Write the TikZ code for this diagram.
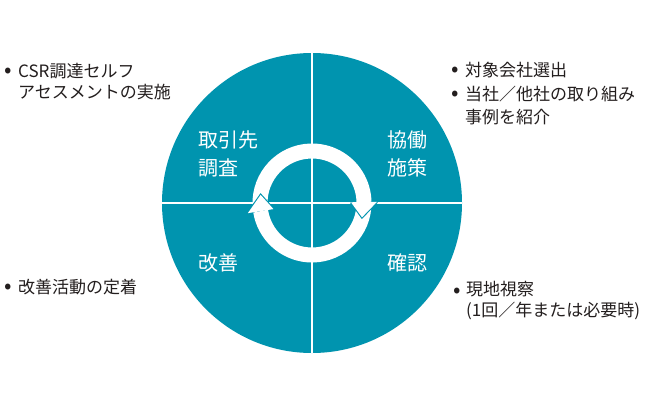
\documentclass[tikz,border=0pt]{standalone}
\usepackage{fontspec}
\setmainfont{Noto Sans CJK JP}
\definecolor{tealA}{RGB}{0,148,175}
\definecolor{txtA}{RGB}{35,30,30}
\tikzset{
  quad/.style={text=white, inner sep=0pt, align=left, font=\fontsize{20}{28}\selectfont},
  outer/.style={text=txtA, inner sep=0pt, align=left, font=\fontsize{17}{21}\selectfont},
  bul/.style={text=txtA, inner sep=0pt, font=\fontsize{22}{22}\selectfont, yshift=-2pt},
  band/.style={draw=white, line width=15pt, line cap=butt},
  gapedge/.style={draw=tealA, line width=2.2pt, line cap=butt},
}
\begin{document}
\begin{tikzpicture}[x=1pt,y=1pt]
\useasboundingbox (0,0) rectangle (660,400);
\fill[white] (0,0) rectangle (660,400);
\coordinate (c) at (312,197);
\node[circle, fill=tealA, minimum size=300pt, inner sep=0pt, draw=none] (disk) at (c) {};
\draw[white, line width=2.5pt] (disk.north) -- (disk.south);
\draw[white, line width=2.5pt] (disk.west) -- (disk.east);
% cycle ring
\begin{scope}[shift={(c)}]
  \draw[band] (-5:52) arc[start angle=-5, end angle=-171, radius=52];
  \draw[band] (182:52) arc[start angle=182, end angle=1, radius=52];
  % right arrowhead (pointing down)
  \draw[gapedge] (1:39) -- (-16:52) -- (1:65);
  \fill[white] (1:39) -- (-16:52) -- (1:65) -- cycle;
  % left arrowhead (pointing up)
  \draw[gapedge] (189:39) -- (171:52) -- (189:65);
  \fill[white] (189:39) -- (171:52) -- (189:65) -- cycle;
\end{scope}
% quadrant labels
\node[quad, anchor=west] (q1) at (198,246) {取引先\\調査};
\node[quad, anchor=west] (q2) at (387,246) {協働\\施策};
\node[quad, anchor=west] (q3) at (198,137) {改善};
\node[quad, anchor=west] (q4) at (387,137) {確認};
% outer texts
\node[bul] (b1) at (8,329) {•};
\node[outer, anchor=west] (t1) at (18,318.5) {CSR調達セルフ\\アセスメントの実施};
\node[bul] (b2) at (455,330) {•};
\node[bul] (b3) at (455,306) {•};
\node[outer, anchor=west, font=\fontsize{17}{23.5}\selectfont] (t2) at (465,306) {対象会社選出\\当社／他社の取り組み\\事例を紹介};
\node[bul] (b4) at (8,113) {•};
\node[outer, anchor=west] (t3) at (18,113) {改善活動の定着};
\node[bul] (b5) at (457,109) {•};
\node[outer, anchor=west] (t4) at (466,99) {現地視察\\(1回／年または必要時)};
\end{tikzpicture}
\end{document}
